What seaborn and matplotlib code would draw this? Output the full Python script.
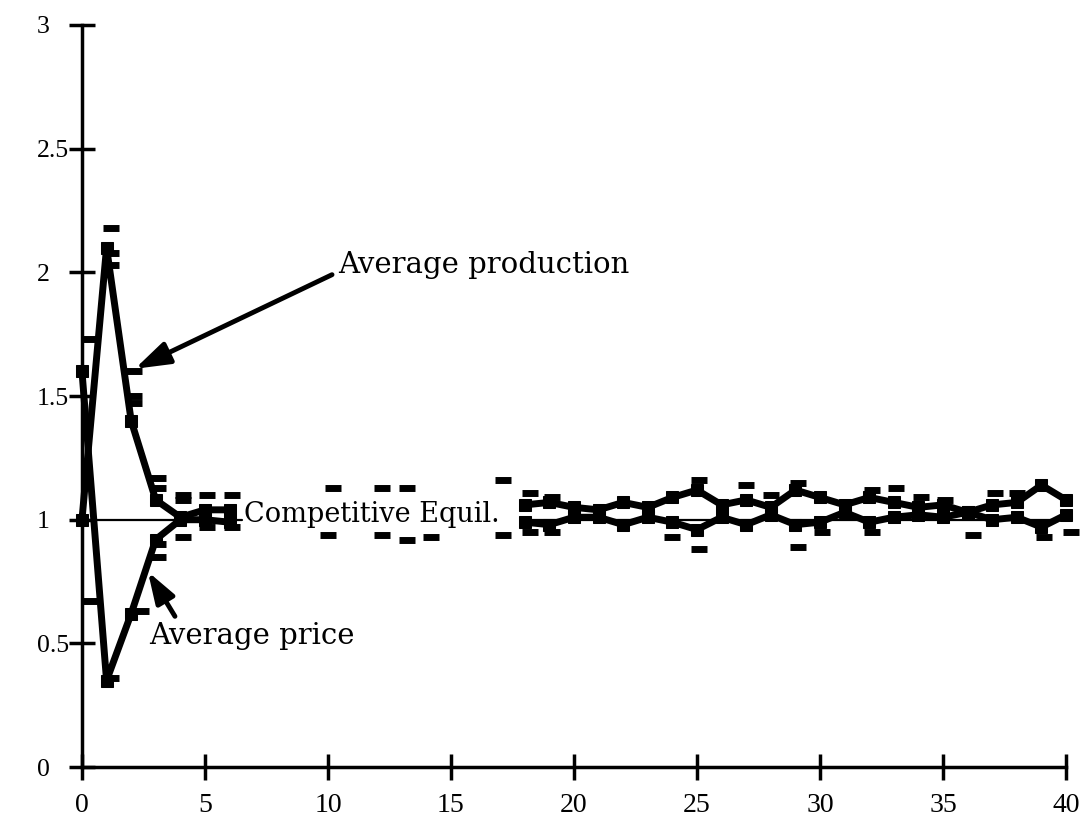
import matplotlib
matplotlib.use("Agg")
import matplotlib.pyplot as plt
import seaborn as sns
import pandas as pd

# periods with a drawn line (gap between 7 and 17 in the original)
periods_early = [0, 1, 2, 3, 4, 5, 6]
periods_late = list(range(18, 41))

production_early = [1.0, 2.1, 1.4, 1.08, 1.01, 1.04, 1.04]
price_early = [1.6, 0.35, 0.62, 0.92, 1.0, 1.0, 0.99]

production_late = [1.06, 1.07, 1.05, 1.04, 1.07, 1.05, 1.09, 1.12, 1.06, 1.08, 1.05, 1.12,
                   1.09, 1.06, 1.09, 1.07, 1.05, 1.06, 1.03, 1.06, 1.07, 1.14, 1.08]
price_late = [0.99, 0.98, 1.01, 1.01, 0.98, 1.01, 0.99, 0.96, 1.01, 0.98, 1.02, 0.98,
              0.99, 1.03, 0.99, 1.01, 1.02, 1.01, 1.03, 1.0, 1.01, 0.97, 1.02]

# individual market values shown as small dashes
dash_x = [0.3, 1.2, 1.2, 1.2, 2.1, 2.1, 2.1, 3.1, 3.1, 4.1, 4.1, 5.1, 6.1, 10.2, 12.2, 13.2, 17.1,
          18.2, 19.1, 25.1, 27.0, 28.0, 29.1, 32.1, 33.1, 34.1, 35.1, 37.1, 38.0,
          0.3, 1.2, 2.4, 3.1, 3.1, 4.1, 5.1, 6.1, 10.0, 12.2, 13.2, 14.2, 17.1,
          18.2, 19.1, 24.0, 25.1, 29.1, 30.1, 32.1, 36.2, 39.1, 40.2]
dash_y = [1.73, 2.18, 2.08, 2.03, 1.6, 1.5, 1.47, 1.17, 1.13, 1.1, 1.08, 1.1, 1.1, 1.13, 1.13, 1.13, 1.16,
          1.11, 1.09, 1.16, 1.14, 1.1, 1.15, 1.12, 1.13, 1.09, 1.08, 1.11, 1.11,
          0.67, 0.36, 0.63, 0.9, 0.85, 0.93, 0.97, 0.97, 0.94, 0.94, 0.92, 0.93, 0.94,
          0.95, 0.95, 0.93, 0.88, 0.89, 0.95, 0.95, 0.94, 0.93, 0.95]

# competitive equilibrium reference line (hidden behind its label in the middle)
equil_x = [0, 6.5, None, 18, 40]
equil_y = [1, 1, None, 1, 1]

x_ticks = [0, 5, 10, 15, 20, 25, 30, 35, 40]
y_ticks = [0, 0.5, 1, 1.5, 2, 2.5, 3]
y_labels = ["0", "0.5", "1", "1.5", "2", "2.5", "3"]

rows = []
for seg, (xs, ys) in enumerate([(periods_early, production_early), (periods_late, production_late)]):
    rows += [dict(period=x, value=y, seg=f"prod{seg}") for x, y in zip(xs, ys)]
for seg, (xs, ys) in enumerate([(periods_early, price_early), (periods_late, price_late)]):
    rows += [dict(period=x, value=y, seg=f"price{seg}") for x, y in zip(xs, ys)]
df = pd.DataFrame(rows)
dashes = pd.DataFrame({"period": dash_x, "value": dash_y})

sns.set_style("ticks")
plt.rcParams["font.family"] = ["DejaVu Serif"]
plt.rcParams["text.color"] = "black"

fig = plt.figure(figsize=(10.87, 8.32), dpi=100)
ax = fig.add_axes([0.0754, 0.078, 0.9053, 0.892])

ax.plot([float("nan") if v is None else v for v in equil_x],
        [float("nan") if v is None else v for v in equil_y],
        color="black", lw=1.6, zorder=1)

sns.lineplot(data=df, x="period", y="value", units="seg", estimator=None,
             color="black", lw=5, marker="s", markersize=8, markeredgecolor="black",
             ax=ax, zorder=3)
sns.scatterplot(data=dashes, x="period", y="value", marker="_", s=130, linewidth=5,
                color="black", ax=ax, zorder=4)

ax.text(6.6, 1.02, "Competitive Equil.", fontsize=19.5, va="center", ha="left", zorder=2)
ax.annotate("Average production", xy=(2.15, 1.61), xytext=(10.4, 2.03),
            fontsize=21, va="center", ha="left",
            arrowprops=dict(arrowstyle="-|>,head_length=1.0,head_width=0.33", lw=3.5, color="black",
                            shrinkA=2, shrinkB=0, relpos=(0.0, 0.25)))
ax.annotate("Average price", xy=(2.68, 0.79), xytext=(2.75, 0.53),
            fontsize=21, va="center", ha="left",
            arrowprops=dict(arrowstyle="-|>,head_length=0.9,head_width=0.3", lw=3.5, color="black",
                            shrinkA=2, shrinkB=0, relpos=(0.14, 1.0)))

ax.set_xlim(0, 40)
ax.set_ylim(0, 3)
ax.set_xticks(x_ticks)
ax.set_xticklabels([str(t) for t in x_ticks], fontfamily="Liberation Serif", fontsize=20)
ax.set_yticks(y_ticks)
ax.set_yticklabels(y_labels, fontfamily="Liberation Serif", fontsize=18.5, ha="left")
ax.set_xlabel("")
ax.set_ylabel("")
sns.despine(ax=ax)
for side in ["left", "bottom"]:
    ax.spines[side].set_linewidth(2.5)
    ax.spines[side].set_color("black")
ax.tick_params(axis="both", direction="inout", length=19, width=2.5, color="black",
               labelcolor="black", bottom=True, left=True)
ax.tick_params(axis="x", pad=9)
ax.tick_params(axis="y", pad=23)
for art in ax.lines + ax.collections:
    art.set_clip_on(False)

fig.savefig("out.png", dpi=100, facecolor="white")
